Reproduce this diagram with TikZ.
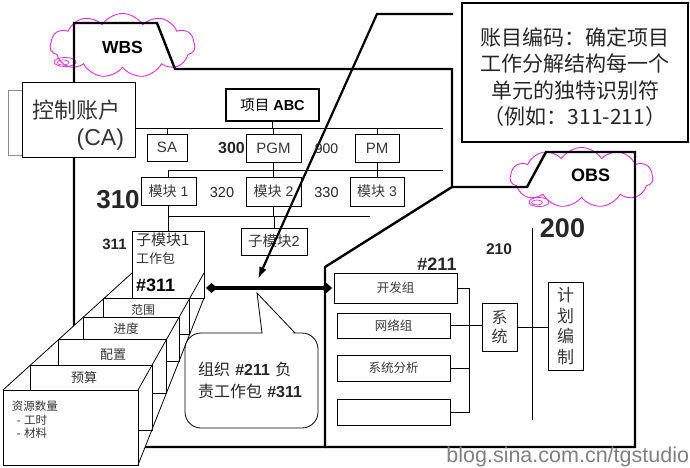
\documentclass[tikz,border=0pt]{standalone}
\usepackage{fontspec}
\setmainfont{Liberation Sans}
\newfontfamily\cjk{Noto Sans CJK SC}
\usetikzlibrary{shapes.symbols,arrows.meta}
\newcommand\fsz[2]{\fontsize{#1}{#2}\selectfont}
\definecolor{cloudc}{RGB}{218,48,218}
\begin{document}
\begin{tikzpicture}[x=1pt,y=-1pt,
  every node/.style={inner sep=0pt, outer sep=0pt},
  box/.style={draw, line width=0.8pt, fill=white, text=black!78},
  conn/.style={line width=0.7pt},
  frame/.style={line width=2.4pt, line join=miter},
  card/.style={draw, line width=0.8pt, fill=white},
  cl/.style={cloud, cloud puffs=11, cloud puff arc=115, aspect=2.2, draw=cloudc, line width=0.9pt},
  lbl/.style={text=black!80},
  num/.style={text=black!85},
]
\useasboundingbox (0,0) rectangle (690,468);

% clouds
\node[cl, minimum width=145pt, minimum height=64pt] (wbscloud) at (122.5,45.5) {};
\node[cl, minimum width=143pt, minimum height=60pt] (obscloud) at (581.5,177.5) {};
\draw[cloudc, line width=0.8pt] (65,62) ellipse (11 and 4.5);
\draw[cloudc, line width=0.7pt] (63,62.5) ellipse (6 and 2.5);
\draw[cloudc, line width=0.8pt] (539,202) ellipse (10 and 4.5);
\draw[cloudc, line width=0.7pt] (537,202.5) ellipse (5.5 and 2.5);

% frames
\draw[frame] (74,23) -- (157,23) -- (175,69) -- (452,69) -- (452,187) -- (325,267) -- (325,447) -- (74,447) -- cycle;
\draw[frame] (452,187) -- (527,187) -- (546,152) -- (635,152) -- (635,447) -- (325,447);

% control account
\draw[black!45, line width=0.8pt] (8,90) rectangle (128,155);
\node[box, line width=1pt, minimum width=113pt, minimum height=74pt] (ca) at (78.5,120) {};
\node[lbl, font=\cjk\fsz{22}{24}] (catxt) at (76,110) {控制账户};
\node[lbl, font=\fsz{23}{25}, anchor=east] (catxt2) at (124,140) {(CA)};

% WBS boxes
\node[box, line width=1.6pt, text=black, minimum width=93pt, minimum height=32pt, font=\fsz{14.5}{17}] (abc) at (272.5,105) {{\cjk 项目} \textbf{ABC}};
\node[box, minimum width=40pt, minimum height=27pt, font=\fsz{15}{17}] (sa) at (167,147.5) {SA};
\node[box, minimum width=55pt, minimum height=28pt, font=\fsz{15}{17}] (pgm) at (273.5,148) {PGM};
\node[box, minimum width=44pt, minimum height=28pt, font=\fsz{15}{17}] (pm) at (377,148) {PM};
\node[box, minimum width=55pt, minimum height=28pt, font=\fsz{14}{16}] (m1) at (168.5,191) {{\cjk 模块} 1};
\node[box, minimum width=55pt, minimum height=29pt, font=\fsz{14}{16}] (m2) at (273.5,191.5) {{\cjk 模块} 2};
\node[box, minimum width=54pt, minimum height=29pt, font=\fsz{14}{16}] (m3) at (377,191.5) {{\cjk 模块} 3};
\node[box, minimum width=66pt, minimum height=27pt, font=\fsz{14.5}{16}] (sm2) at (274,241.5) {{\cjk 子模块}2};

% buses
\coordinate (b1r) at (443,128);
\draw[conn] (ca.east |- b1r) -- (b1r);
\draw[conn] (abc.south) -- (abc.south |- b1r);
\draw[conn] (sa.north) -- (sa.north |- b1r);
\draw[conn] (pgm.north) -- (pgm.north |- b1r);
\draw[conn] (pm.north) -- (pm.north |- b1r);
\coordinate (b2l) at (168.5,170);
\coordinate (b2r) at (443,170);
\draw[conn] (b2l) -- (b2r);
\draw[conn] (pgm.south) -- (pgm.south |- b2r);
\draw[conn] (pm.south) -- (pm.south |- b2r);
\draw[conn] (m1.north) -- (m1.north |- b2r);
\draw[conn] (m2.north) -- (m2.north |- b2r);
\draw[conn] (m3.north) -- (m3.north |- b2r);
\coordinate (b3l) at (168.5,216);
\coordinate (b3r) at (370,216);
\draw[conn] (b3l) -- (b3r);
\draw[conn] (m1.south) -- (m1.south |- b3r);
\draw[conn] (m2.south) -- (m2.south |- b3r);
\draw[conn] (sm2.north) -- (sm2.north |- b3r);

% stack of cards
\fill[white] (3,390) -- (132,273) -- (204,273) -- (204,298) -- (138,465) -- (3,465) -- cycle;
\node[card, minimum width=72pt, minimum height=67pt] (tc) at (168.5,264.5) {};
\draw[conn] (tc.north) -- (tc.north |- b3r);
\draw[card] (103.6,298.7) rectangle (189.5,334.7);
\draw[card] (83,317.5) rectangle (178.9,361.5);
\draw[card] (58.5,339.7) rectangle (166.4,393.2);
\draw[card] (30.1,365.4) rectangle (151.9,429.9);
\draw[card] (3,390) rectangle (138,465);
\draw[line width=0.8pt] (3,390) -- (132,273);
\draw[line width=0.8pt] (138,390) -- (204,273);
\draw[line width=0.8pt] (138,465) -- (204,298);
\node[lbl, font=\cjk\fsz{15}{17}, anchor=west] (tc1) at (136,240) {子模块1};
\node[lbl, font=\cjk\fsz{13}{15}, anchor=west] (tc2) at (136,259) {工作包};
\node[text=black, font=\fsz{18}{20}\bfseries, anchor=west] (tc3) at (136,285) {\#311};
\node[lbl, font=\cjk\fsz{12}{14}] (c1) at (143,309.5) {范围};
\node[lbl, font=\cjk\fsz{12.5}{14}] (c2) at (126,329) {进度};
\node[lbl, font=\cjk\fsz{13}{15}] (c3) at (113,355) {配置};
\node[lbl, font=\cjk\fsz{13}{15}] (c4) at (84,378) {预算};
\node[lbl, font=\fsz{11.5}{13.5}, anchor=west, align=left] (c5) at (12,420) {{\cjk 资源数量}\\\hspace*{5pt}- {\cjk 工时}\\\hspace*{5pt}- {\cjk 材料}};

% OBS boxes
\node[box, minimum width=123pt, minimum height=30pt, font=\cjk\fsz{12.5}{14}] (kfz) at (395.5,288) {开发组};
\node[box, minimum width=113pt, minimum height=25pt, font=\cjk\fsz{12.5}{14}] (wlz) at (393.5,325.5) {网络组};
\node[box, minimum width=113pt, minimum height=26pt, font=\cjk\fsz{12.5}{14}] (xtfx) at (393.5,368) {系统分析};
\node[box, minimum width=113pt, minimum height=26pt] (emp) at (393.5,412) {};
\node[box, minimum width=35pt, minimum height=48pt, align=center, font=\cjk\fsz{16}{19}] (xt) at (499.5,327) {系\\统};
\node[box, minimum width=35pt, minimum height=88pt, align=center, font=\cjk\fsz{17}{20.5}] (jh) at (565.5,326) {计\\划\\编\\制};
\coordinate (ov1) at (469,288);
\coordinate (ov2) at (469,412);
\draw[conn] (kfz.east) -- (ov1) -- (ov2) -- (emp.east);
\draw[conn] (xtfx.east) -- (xtfx.east -| ov1);
\draw[conn] (wlz.east) -- (wlz.east -| xt.west);
\coordinate (vt) at (532,228);
\coordinate (vb) at (532,420);
\draw[conn] (vt) -- (vb);
\draw[conn] (xt.east) -- (xt.east -| jh.west);

% centre callout
\node[draw, line width=0.8pt, fill=white, rounded corners=16pt, minimum width=133pt, minimum height=95pt, text width=107pt, align=left, font=\fsz{16}{22}, text=black!85] (org) at (251.5,380.5) {{\cjk 组织} \textbf{\#211} {\cjk 负}\\{\cjk 责工作包} \textbf{\#311}};
\fill[white] (262.8,334.6) -- (257,293) -- (294.2,334.6) -- cycle;
\draw[line width=0.8pt] (262,333) -- (257,293) -- (295,333);

% top-right callout
\node[draw, line width=1.4pt, fill=white, minimum width=226pt, minimum height=139pt] (cbox) at (575,72.5) {};
\node[align=center, font=\cjk\fsz{21}{26.5}, text=black!85] (ctext) at (575,77) {账目编码：确定项目\\工作分解结构每一个\\单元的独特识别符\\（例如：311-211）};

% connectors
\coordinate (dl) at (206,288);
\draw[line width=3.4pt, {Diamond[length=11pt,width=10pt]}-{Diamond[length=11pt,width=10pt]}] (dl) -- ([xshift=-2pt]kfz.west);
\coordinate (cstart) at (453,14);
\coordinate (cbend) at (377,14);
\coordinate (ctip) at (258,279);
\draw[line width=2.2pt, line join=miter, -{Latex[length=12pt,width=8pt]}] (cstart) -- (cbend) -- (ctip);

% labels
\node[font=\fsz{17.5}{20}\bfseries] (wbst) at (122.5,47.5) {WBS};
\node[font=\fsz{18}{20}\bfseries] (obst) at (590.5,175) {OBS};
\node[num, font=\fsz{16}{18}\bfseries] (n300) at (231.5,148) {300};
\node[num, font=\fsz{14}{16}] (n900) at (326.5,148.5) {900};
\node[num, font=\fsz{14.5}{16}] (n320) at (222,193) {320};
\node[num, font=\fsz{14.5}{16}] (n330) at (326.5,193) {330};
\node[num, font=\fsz{26}{28}\bfseries] (n310) at (118,200) {310};
\node[num, font=\fsz{15}{17}\bfseries] (n311) at (114.5,244) {311};
\node[num, font=\fsz{18}{20}\bfseries] (n211) at (437,264) {\#211};
\node[num, font=\fsz{15.5}{17}\bfseries] (n210) at (499,249) {210};
\node[num, font=\fsz{27}{29}\bfseries] (n200) at (562.5,228) {200};
\node[text=black!50, font=\fsz{21.5}{24}, anchor=base east] (wm) at (689,462) {blog.sina.com.cn/tgstudio};
\end{tikzpicture}
\end{document}
